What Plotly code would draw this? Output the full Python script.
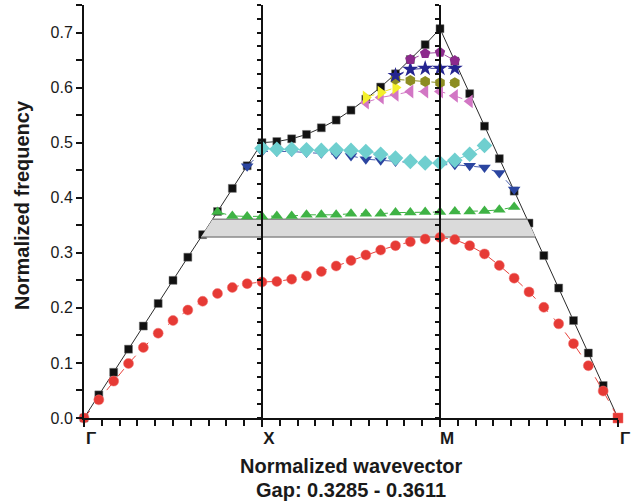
import numpy as np
import plotly.graph_objects as go

# ---------------- data ----------------
n_per_seg = 12
kpath = np.arange(3 * n_per_seg + 1) / n_per_seg  # wavevector samples along Γ-X-M-Γ
sym_labels = ["Γ", "X", "M", "Γ"]
sym_pos = [0, 1, 2, 3]

light_line = [0, .042, .083, .125, .167, .208, .250, .292, .333, .375, .417, .458, .500,
              .502, .507, .515, .527, .541, .559, .579, .601, .625, .651, .678, .707,
              .648, .589, .530, .471, .412, .354, .295, .236, .177, .118, .059, 0]
band1 = [0, .033, .067, .099, .128, .154, .177, .196, .212, .226, .237, .244, .247,
         .248, .252, .258, .266, .276, .286, .296, .305, .313, .320, .325, .328,
         .324, .313, .298, .277, .254, .229, .201, .171, .135, .095, .049, 0]
band2_start = 9
band2 = [.374, .367, .366, .366,
         .367, .367, .369, .369, .369, .371, .371, .371, .373, .373, .374, .374,
         .375, .375, .376, .378, .383]
band3_start = 11
band3 = [.457, .484, .484, .484, .482, .481, .479, .476, .470, .468, .466, .463, .461,
         .460, .460, .458, .455, .445, .415]
band4_start = 12
band4 = [.490, .488, .488, .487, .486, .487, .486, .484, .479, .472, .466, .463, .463,
         .468, .479, .495]
band5_start = 19
band5 = [.573, .582, .587, .593, .593, .593, .585, .575]
band6_start = 19
band6 = [.582, .591, .600]
band7_start = 21
band7 = [.615, .613, .611, .609, .609]
band8_start = 21
band8 = [.622, .633, .635, .635, .635]
band9_start = 22
band9 = [.651, .662, .664, .649]
gap_low, gap_high = 0.3285, 0.3611

# ---------------- figure ----------------
fig = go.Figure()

def seg(start, vals):
    return kpath[start:start + len(vals)]

# light line
fig.add_trace(go.Scatter(x=kpath, y=light_line, mode="lines+markers",
                         line=dict(color="#2a2a2a", width=1),
                         marker=dict(symbol="square", size=8, color="#111111",
                                     line=dict(color="#777777", width=0.5)),
                         cliponaxis=False))

# gap band bounded by the light line
ll = np.array(light_line)
n = n_per_seg
xl_lo = np.interp(gap_low, ll[:n + 1], kpath[:n + 1])
xl_hi = np.interp(gap_high, ll[:n + 1], kpath[:n + 1])
xr_lo = np.interp(gap_low, ll[2 * n:][::-1], kpath[2 * n:][::-1])
xr_hi = np.interp(gap_high, ll[2 * n:][::-1], kpath[2 * n:][::-1])
fig.add_trace(go.Scatter(x=[xl_lo, xr_lo, xr_hi, xl_hi, xl_lo],
                         y=[gap_low, gap_low, gap_high, gap_high, gap_low],
                         mode="lines", fill="toself", fillcolor="#dadada",
                         line=dict(width=0), hoverinfo="skip"))
fig.add_trace(go.Scatter(x=[xl_hi, xr_hi, None, xl_lo, xr_lo],
                         y=[gap_high, gap_high, None, gap_low, gap_low],
                         mode="lines", line=dict(color="#8a8a8a", width=1.5),
                         hoverinfo="skip"))

red_symbols = ["circle"] * (len(band1) - 1) + ["square"]
fig.add_trace(go.Scatter(x=kpath, y=band1, mode="lines+markers",
                         line=dict(color="#e8403a", width=1, dash="dash"),
                         marker=dict(symbol=red_symbols, size=10, color="#e63a35",
                                     line=dict(color="#f07070", width=0.5)),
                         cliponaxis=False))

styles = [
    (band2_start, band2, "triangle-up", "#3fb345", "#3fb345", 11),
    (band3_start, band3, "triangle-down", "#2b45a0", "#4a5fb0", 11),
    (band4_start, band4, "diamond", "#6fcfcf", "#6fcfcf", 12),
    (band5_start, band5, "triangle-left", "#d276c4", "#d276c4", 12),
    (band6_start, band6, "triangle-right", "#f4f02a", "#e8e030", 12),
    (band7_start, band7, "hexagon", "#8c8c22", "#8c8c22", 11),
    (band8_start, band8, "star", "#242490", "#3a3a9a", 12),
    (band9_start, band9, "pentagon", "#8c2a8c", "#a050a0", 11),
]
for start, vals, sym, col, lcol, size in styles:
    fig.add_trace(go.Scatter(x=seg(start, vals), y=vals, mode="lines+markers",
                             line=dict(color=lcol, width=1, dash="dash"),
                             marker=dict(symbol=sym, size=size, color=col,
                                         line=dict(width=0)),
                             cliponaxis=False))

tick_font = dict(family="Liberation Sans, Arial, sans-serif", size=16, color="#1a1a1a")
fig.update_layout(
    width=637, height=501,
    margin=dict(l=84, r=19, t=5, b=83),
    paper_bgcolor="white", plot_bgcolor="white",
    showlegend=False,
    xaxis=dict(range=[0, 3], tickvals=sym_pos,
               ticktext=[f"<b>{t}</b>" for t in sym_labels],
               showgrid=False, zeroline=False, showline=True, linecolor="#111",
               linewidth=2, ticks="outside", ticklen=7, tickwidth=1.5,
               tickcolor="#111",
               minor=dict(dtick=0.1, tick0=0, ticks="outside", ticklen=6,
                          tickwidth=1.5, tickcolor="#111"),
               ticklabelshift=7, ticklabelstandoff=-3,
               tickfont=dict(family="Liberation Sans, Arial, sans-serif",
                             size=17, color="#1a1a1a")),
    yaxis=dict(range=[0, 0.75], tickvals=[0, .1, .2, .3, .4, .5, .6, .7],
               ticktext=["0.0", "0.1", "0.2", "0.3", "0.4", "0.5", "0.6", "0.7"],
               showgrid=False, zeroline=False, showline=True, linecolor="#111",
               linewidth=2, ticks="outside", ticklen=6, tickwidth=1.5,
               tickcolor="#111",
               minor=dict(dtick=0.05, tick0=0, ticks="outside", ticklen=6,
                          tickwidth=1.5, tickcolor="#111"),
               tickfont=tick_font),
    yaxis2=dict(range=[0, 0.75], overlaying="y", anchor="free", position=1 / 3,
                side="left", showline=True, linecolor="#111", linewidth=2,
                ticks="outside", ticklen=4, tickwidth=1.5, tickcolor="#111",
                dtick=0.025, tick0=0, showticklabels=False, showgrid=False,
                zeroline=False),
    yaxis3=dict(range=[0, 0.75], overlaying="y", anchor="free", position=2 / 3,
                side="left", showline=True, linecolor="#111", linewidth=2,
                ticks="outside", ticklen=4, tickwidth=1.5, tickcolor="#111",
                dtick=0.025, tick0=0, showticklabels=False, showgrid=False,
                zeroline=False),
)
# dummy traces so the extra axes are drawn
fig.add_trace(go.Scatter(x=[None], y=[None], yaxis="y2", showlegend=False))
fig.add_trace(go.Scatter(x=[None], y=[None], yaxis="y3", showlegend=False))

title_font = dict(family="Liberation Sans, Arial, sans-serif", size=20, color="#1a1a1a")
fig.add_annotation(text="<b>Normalized wavevector</b>", xref="paper", yref="paper",
                   x=0.5, y=0, yanchor="middle", yshift=-48, showarrow=False,
                   font=title_font)
fig.add_annotation(text=f"<b>Gap: {gap_low:.4f} - {gap_high:.4f}</b>", xref="paper",
                   yref="paper", x=0.5, y=0, yanchor="middle", yshift=-72,
                   showarrow=False, font=title_font)
fig.add_annotation(text="<b>Normalized frequency</b>", xref="paper", yref="paper",
                   x=0, y=0.516, xanchor="center", yanchor="middle", xshift=-62,
                   textangle=-90, showarrow=False, font=title_font)

fig.write_html("out.html", config={"displayModeBar": False},
               post_script="document.body.style.margin='0';"
                           "document.body.style.overflow='hidden';")
